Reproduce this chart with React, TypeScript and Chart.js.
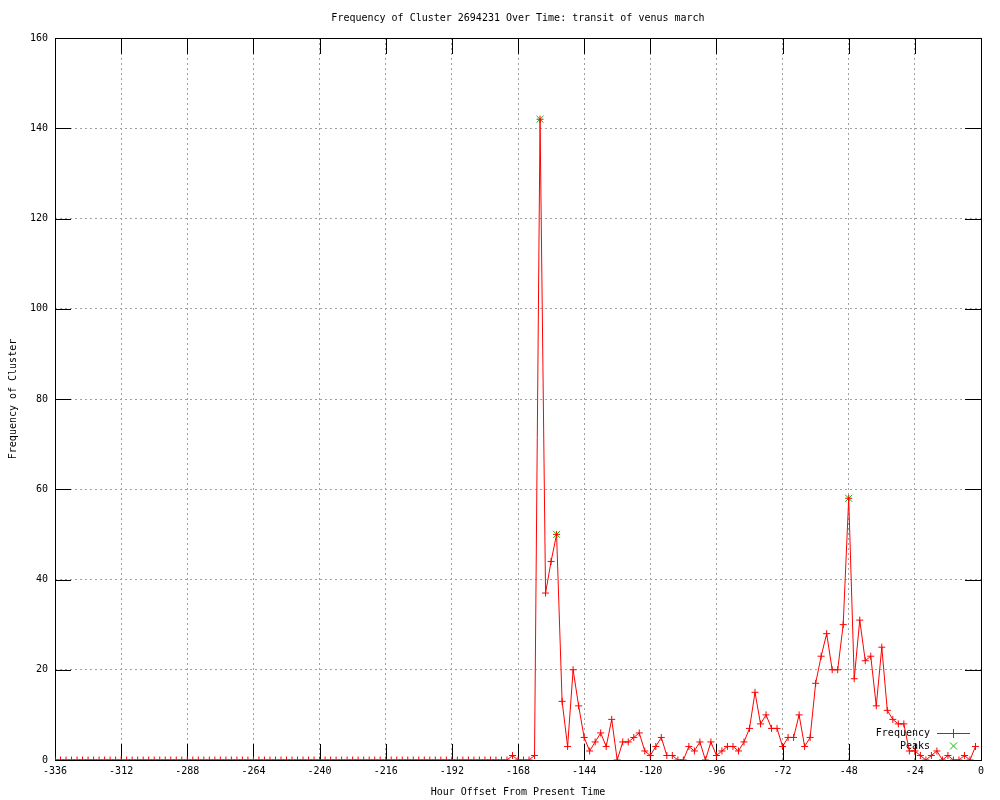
import React, { useEffect, useRef } from "react";
import { Chart, registerables } from "chart.js";

Chart.register(...registerables);

const TITLE = "Frequency of Cluster 2694231 Over Time: transit of venus march";
const X_TITLE = "Hour Offset From Present Time";
const Y_TITLE = "Frequency of Cluster";
const SERIES_NAME = "Frequency";
const PEAKS_NAME = "Peaks";

const START_HOUR = -336;
const STEP_HOURS = 2;

// One value every 2 hours, from -336 h to -2 h
const FREQUENCY = [
  // -336 .. -172
  0, 0, 0, 0, 0, 0, 0, 0, 0, 0, 0, 0,
  0, 0, 0, 0, 0, 0, 0, 0, 0, 0, 0, 0,
  0, 0, 0, 0, 0, 0, 0, 0, 0, 0, 0, 0,
  0, 0, 0, 0, 0, 0, 0, 0, 0, 0, 0, 0,
  0, 0, 0, 0, 0, 0, 0, 0, 0, 0, 0, 0,
  0, 0, 0, 0, 0, 0, 0, 0, 0, 0, 0, 0,
  0, 0, 0, 0, 0, 0, 0, 0, 0, 0, 0,
  // -170 .. -2
  1, 0, 0, 0, 1, 142, 37, 44, 50, 13, 3, 20, 12, 5, 2, 4, 6, 3, 9, 0,
  4, 4, 5, 6, 2, 1, 3, 5, 1, 1, 0, 0, 3, 2, 4, 0, 4, 1, 2, 3,
  3, 2, 4, 7, 15, 8, 10, 7, 7, 3, 5, 5, 10, 3, 5, 17, 23, 28, 20, 20,
  30, 58, 18, 31, 22, 23, 12, 25, 11, 9, 8, 8, 2, 2, 1, 0, 1, 2, 0, 1,
  0, 0, 1, 0, 3,
];
const HOURS = FREQUENCY.map((_, i) => START_HOUR + STEP_HOURS * i);

const PEAK_HOURS = [-160, -154, -48];
const PEAK_VALUES = [142, 50, 58];

const X_TICKS = [-336, -312, -288, -264, -240, -216, -192, -168, -144, -120, -96, -72, -48, -24, 0];
const Y_TICKS = [0, 20, 40, 60, 80, 100, 120, 140, 160];

const FONT_FAMILY = "'DejaVu Sans Mono', 'Liberation Mono', monospace";
const RED = "#ff0000";
const GREEN = "#00c000";
const GRID = "#a0a0a0";

const gnuplotFrame = {
  id: "gnuplotFrame",
  beforeDatasetsDraw(chart: any) {
    const { ctx, chartArea, scales } = chart;
    const { left, right, top, bottom } = chartArea;
    const x = scales.x;
    const y = scales.y;
    ctx.save();
    ctx.setLineDash([]);
    ctx.strokeStyle = "#000000";
    ctx.lineWidth = 1;
    ctx.beginPath();
    const tl = 16;
    for (const v of X_TICKS) {
      const px = Math.round(x.getPixelForValue(v)) + 0.5;
      ctx.moveTo(px, bottom);
      ctx.lineTo(px, bottom - tl);
      ctx.moveTo(px, top);
      ctx.lineTo(px, top + tl);
    }
    for (const v of Y_TICKS) {
      const py = Math.round(y.getPixelForValue(v)) + 0.5;
      ctx.moveTo(left, py);
      ctx.lineTo(left + tl, py);
      ctx.moveTo(right, py);
      ctx.lineTo(right - tl, py);
    }
    ctx.stroke();
    ctx.strokeRect(Math.round(left) + 0.5, Math.round(top) + 0.5, Math.round(right - left), Math.round(bottom - top));
    ctx.restore();

    // key (legend) text at lower right
    const kx = right - 51;
    const ky1 = bottom - 27;
    const ky2 = bottom - 14;
    ctx.save();
    ctx.font = `10px ${FONT_FAMILY}`;
    ctx.fillStyle = "#000000";
    ctx.textAlign = "right";
    ctx.textBaseline = "middle";
    ctx.fillText(SERIES_NAME, kx, ky1);
    ctx.fillText(PEAKS_NAME, kx, ky2);
    ctx.restore();
  },
  afterDraw(chart: any) {
    const { ctx, chartArea } = chart;
    const { right, bottom } = chartArea;
    const kx = Math.round(right - 51);
    const ky1 = Math.round(bottom - 27);
    const ky2 = Math.round(bottom - 14);
    const cx = kx + 23;

    ctx.save();
    ctx.fillStyle = RED;
    ctx.fillRect(kx + 7, ky1, 33, 1);
    ctx.fillRect(cx, ky1 - 4, 1, 9);
    ctx.restore();

    ctx.save();
    ctx.setLineDash([]);
    ctx.lineWidth = 1;
    ctx.strokeStyle = GREEN;
    ctx.beginPath();
    ctx.moveTo(cx + 0.5 - 3.5, ky2 - 3.5);
    ctx.lineTo(cx + 0.5 + 3.5, ky2 + 3.5);
    ctx.moveTo(cx + 0.5 - 3.5, ky2 + 3.5);
    ctx.lineTo(cx + 0.5 + 3.5, ky2 - 3.5);
    ctx.stroke();
    ctx.restore();

    ctx.save();
    ctx.font = `10px ${FONT_FAMILY}`;
    ctx.fillStyle = "#000000";
    ctx.textAlign = "center";
    ctx.textBaseline = "middle";
    ctx.fillText(TITLE, (chartArea.left + chartArea.right) / 2, 18);
    ctx.restore();
  },
};

export default function App() {
  const canvasRef = useRef<HTMLCanvasElement | null>(null);

  useEffect(() => {
    const canvas = canvasRef.current;
    if (!canvas) return;
    Chart.defaults.font.family = FONT_FAMILY;
    Chart.defaults.font.size = 10;
    Chart.defaults.color = "#000";

    const chart = new Chart(canvas, {
      type: "line",
      data: {
        datasets: [
          {
            label: SERIES_NAME,
            data: HOURS.map((h, i) => ({ x: h, y: FREQUENCY[i] })),
            borderColor: RED,
            backgroundColor: RED,
            borderWidth: 1,
            tension: 0,
            pointStyle: "cross",
            pointRadius: 3.5,
            pointBorderWidth: 1,
            pointBorderColor: RED,
            order: 1,
          },
          {
            label: PEAKS_NAME,
            data: PEAK_HOURS.map((h, i) => ({ x: h, y: PEAK_VALUES[i] })),
            showLine: false,
            pointStyle: "crossRot",
            pointRadius: 5,
            pointBorderWidth: 1,
            pointBorderColor: GREEN,
            borderColor: GREEN,
            backgroundColor: GREEN,
            order: 2,
          },
        ],
      },
      options: {
        animation: false,
        responsive: false,
        devicePixelRatio: 1,
        events: [],
        layout: { padding: { top: 38, right: 19, bottom: 0, left: 0 } },
        plugins: {
          legend: { display: false },
          title: { display: false },
          tooltip: { enabled: false },
        },
        scales: {
          x: {
            type: "linear",
            min: -336,
            max: 0,
            afterFit: (s: any) => {
              s.height = 40;
            },
            afterBuildTicks: (s: any) => {
              s.ticks = X_TICKS.map((v) => ({ value: v }));
            },
            ticks: {
              padding: 5,
              maxRotation: 0,
              autoSkip: false,
              color: "#000",
              font: { size: 10, family: FONT_FAMILY },
              callback: (v: any) => String(v),
            },
            grid: {
              color: (c: any) => (c.tick && (c.tick.value === -336 || c.tick.value === 0) ? "rgba(0,0,0,0)" : GRID),
              lineWidth: 1,
              drawTicks: false,
            },
            border: { display: false, dash: [2, 3] },
            title: {
              display: true,
              text: X_TITLE,
              color: "#000",
              font: { size: 10, family: FONT_FAMILY },
              padding: { top: 0, bottom: 2 },
            },
          },
          y: {
            type: "linear",
            min: 0,
            max: 160,
            afterFit: (s: any) => {
              s.width = 55;
            },
            afterBuildTicks: (s: any) => {
              s.ticks = Y_TICKS.map((v) => ({ value: v }));
            },
            ticks: {
              padding: 7,
              color: "#000",
              font: { size: 10, family: FONT_FAMILY },
              callback: (v: any) => String(v),
            },
            grid: {
              color: (c: any) => (c.tick && (c.tick.value === 0 || c.tick.value === 160) ? "rgba(0,0,0,0)" : GRID),
              lineWidth: 1,
              drawTicks: false,
            },
            border: { display: false, dash: [2, 3] },
            title: {
              display: true,
              text: Y_TITLE,
              color: "#000",
              font: { size: 10, family: FONT_FAMILY },
              padding: { top: 7, bottom: 0 },
            },
          },
        },
      },
      plugins: [gnuplotFrame],
    });
    return () => chart.destroy();
  }, []);

  return (
    <div style={{ position: "absolute", left: 0, top: 0, width: 1000, height: 800, background: "#fff" }}>
      <canvas ref={canvasRef} width={1000} height={800} style={{ width: 1000, height: 800, display: "block" }} />
    </div>
  );
}
